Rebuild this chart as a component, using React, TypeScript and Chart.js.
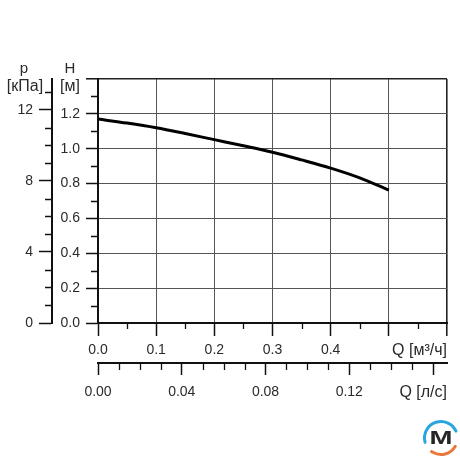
import React, { useEffect, useRef } from "react";
import { Chart, registerables } from "chart.js";

Chart.register(...registerables);

// Pump curve: flow (m³/h) vs head (m)
const flowM3h = [0, 0.05, 0.1, 0.15, 0.2, 0.25, 0.3, 0.35, 0.4, 0.45, 0.5];
const headM = [1.17, 1.147, 1.12, 1.087, 1.052, 1.017, 0.98, 0.936, 0.889, 0.833, 0.762];

// Axis ranges / ticks
const flowMax = 0.6; // m³/h
const headMax = 1.4; // m
const kPaPerMeter = 9.81;
const lpsPerM3h = 1 / 3.6;
const flowTickLabels = ["0.0", "0.1", "0.2", "0.3", "0.4"];
const lpsTickLabels = ["0.00", "0.04", "0.08", "0.12"];
const headTickLabels = ["0.0", "0.2", "0.4", "0.6", "0.8", "1.0", "1.2"];
const pressureTickLabels = ["0", "4", "8", "12"];

const FONT = "'Liberation Sans', Arial, sans-serif";
const TEXT = "#2a2a2a";

const near = (a: number, b: number) => Math.abs(a - b) < 1e-6;

const decorPlugin = {
  id: "decor",
  afterDraw(chart: any) {
    const ctx = chart.ctx as CanvasRenderingContext2D;
    const { x, xLs, y, yP } = chart.scales;
    const ca = chart.chartArea;
    ctx.save();
    ctx.strokeStyle = "#111";
    ctx.lineWidth = 1.3;
    ctx.beginPath();
    // minor ticks H
    for (let v = 0.1; v < headMax; v += 0.2) {
      const py = Math.round(y.getPixelForValue(v)) + 0.5;
      ctx.moveTo(ca.left - 7, py);
      ctx.lineTo(ca.left, py);
    }
    // minor ticks p
    const pMax = headMax * kPaPerMeter;
    for (let v = 1; v < pMax; v += 1) {
      if (v % 4 === 0) continue;
      const py = Math.round(yP.getPixelForValue(v)) + 0.5;
      ctx.moveTo(yP.right - 7, py);
      ctx.lineTo(yP.right, py);
    }
    // minor ticks flow
    for (let v = 0.05; v < flowMax; v += 0.1) {
      const px = Math.round(x.getPixelForValue(v)) + 0.5;
      ctx.moveTo(px, ca.bottom);
      ctx.lineTo(px, ca.bottom + 6);
    }
    // minor ticks l/s
    const lMax = flowMax * lpsPerM3h;
    for (let i = 1; i * 0.01 < lMax; i++) {
      if (i % 4 === 0) continue;
      const px = Math.round(xLs.getPixelForValue(i * 0.01)) + 0.5;
      ctx.moveTo(px, xLs.top);
      ctx.lineTo(px, xLs.top + 7);
    }
    ctx.stroke();

    // titles
    ctx.fillStyle = TEXT;
    ctx.textBaseline = "alphabetic";
    ctx.textAlign = "center";
    ctx.font = `15px ${FONT}`;
    ctx.fillText("p", 24, 73);
    ctx.fillText("H", 70, 73);
    ctx.font = `16px ${FONT}`;
    ctx.fillText("[кПа]", 25, 91);
    ctx.fillText("[м]", 70, 91);
    ctx.textAlign = "right";
    ctx.fillText("Q [м³/ч]", ca.right, 355);
    ctx.fillText("Q [л/с]", ca.right, 397);

    // logo
    const cx = 441, cy = 438, r = 16.5;
    ctx.lineWidth = 3;
    ctx.lineCap = "round";
    ctx.strokeStyle = "#2aa6df";
    ctx.beginPath();
    ctx.arc(cx, cy, r, (165 * Math.PI) / 180, (335 * Math.PI) / 180);
    ctx.stroke();
    ctx.strokeStyle = "#e9773e";
    ctx.beginPath();
    ctx.arc(cx, cy, r, (30 * Math.PI) / 180, (125 * Math.PI) / 180);
    ctx.stroke();
    ctx.fillStyle = "#262626";
    ctx.textAlign = "center";
    ctx.textBaseline = "middle";
    ctx.translate(cx, cy + 1);
    ctx.scale(1.45, 1);
    ctx.font = `bold 19px ${FONT}`;
    ctx.fillText("M", 0, 0);
    ctx.restore();
  },
};

export default function App() {
  const ref = useRef<HTMLCanvasElement | null>(null);
  useEffect(() => {
    if (!ref.current) return;
    const tickFont = { family: FONT, size: 14 };
    const chart = new Chart(ref.current, {
      type: "line",
      data: {
        datasets: [
          {
            data: flowM3h.map((q, i) => ({ x: q, y: headM[i] })),
            borderColor: "#000",
            borderWidth: 3,
            pointRadius: 0,
            cubicInterpolationMode: "monotone",
            xAxisID: "x",
            yAxisID: "y",
          },
        ],
      },
      options: {
        responsive: false,
        animation: false,
        events: [],
        layout: { padding: { top: 79, right: 13, left: 0, bottom: 60 } },
        plugins: { legend: { display: false }, tooltip: { enabled: false } },
        scales: {
          x: {
            type: "linear",
            position: "bottom",
            weight: 0,
            min: 0,
            max: flowMax,
            afterFit: (s: any) => {
              s.height = 40;
            },
            ticks: {
              stepSize: 0.1,
              autoSkip: false,
              maxRotation: 0,
              font: tickFont,
              color: TEXT,
              padding: 6,
              callback: (v: any) => {
                const i = Math.round(Number(v) / 0.1);
                return flowTickLabels[i] ?? "";
              },
            },
            grid: {
              color: (c: any) => (near(c.tick?.value, flowMax) ? "#222" : "#555"),
              lineWidth: (c: any) => (near(c.tick?.value, flowMax) ? 1.6 : 1),
              tickLength: 13,
              tickColor: "#111",
              tickWidth: 1.5,
            },
            border: { color: "#111", width: 2 },
          },
          xLs: {
            type: "linear",
            position: "bottom",
            weight: 1,
            min: 0,
            max: flowMax * lpsPerM3h,
            afterFit: (s: any) => {
              s.height = 37;
            },
            ticks: {
              stepSize: 0.04,
              includeBounds: false,
              autoSkip: false,
              maxRotation: 0,
              font: tickFont,
              color: TEXT,
              padding: 9,
              callback: (v: any) => {
                const i = Math.round(Number(v) / 0.04);
                return lpsTickLabels[i] ?? "";
              },
            },
            grid: {
              drawOnChartArea: false,
              tickLength: 12,
              tickColor: "#111",
              tickWidth: 1.5,
            },
            border: { color: "#111", width: 2 },
          },
          y: {
            type: "linear",
            position: "left",
            weight: 0,
            min: 0,
            max: headMax,
            afterFit: (s: any) => {
              s.width = 46;
            },
            ticks: {
              stepSize: 0.2,
              autoSkip: false,
              font: tickFont,
              color: TEXT,
              padding: 6,
              callback: (v: any) => {
                const i = Math.round(Number(v) / 0.2);
                return headTickLabels[i] ?? "";
              },
            },
            grid: {
              color: (c: any) => (near(c.tick?.value, headMax) ? "#222" : "#555"),
              lineWidth: (c: any) => (near(c.tick?.value, headMax) ? 1.6 : 1),
              tickLength: 12,
              tickColor: "#111",
              tickWidth: 1.5,
            },
            border: { color: "#111", width: 2 },
          },
          yP: {
            type: "linear",
            position: "left",
            weight: 1,
            min: 0,
            max: headMax * kPaPerMeter,
            afterFit: (s: any) => {
              s.width = 52;
            },
            ticks: {
              stepSize: 4,
              includeBounds: false,
              autoSkip: false,
              font: tickFont,
              color: TEXT,
              padding: 6,
              callback: (v: any) => {
                const i = Math.round(Number(v) / 4);
                return pressureTickLabels[i] ?? "";
              },
            },
            grid: {
              drawOnChartArea: false,
              tickLength: 13,
              tickColor: "#111",
              tickWidth: 1.5,
            },
            border: { color: "#111", width: 2 },
          },
        },
      } as any,
      plugins: [decorPlugin],
    });
    return () => chart.destroy();
  }, []);
  return (
    <div style={{ position: "absolute", left: 0, top: 0, width: 460, height: 460, background: "#fff" }}>
      <canvas ref={ref} width={460} height={460} />
    </div>
  );
}
